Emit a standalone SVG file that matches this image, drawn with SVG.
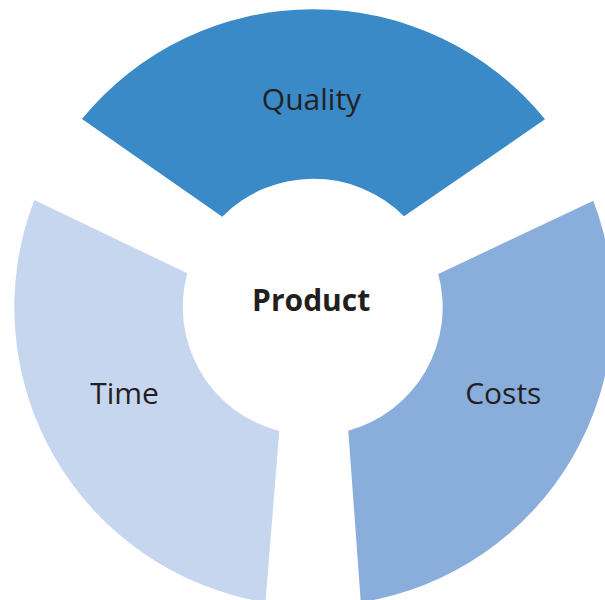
<svg xmlns="http://www.w3.org/2000/svg" width="605" height="600" viewBox="0 0 605 600">
<style>
.lbl{font-family:"Open Sans","Noto Sans","Liberation Sans",sans-serif;font-size:30px;fill:#231f20;text-anchor:middle}
.bold{font-weight:bold}
</style>
<rect width="605" height="600" fill="#ffffff"/>
<g id="quality">
<path d="M82,119 A298.7,298.7 0 0 1 545,119.3 L404,216.3 A128,128 0 0 0 222.3,216.7 Z" fill="#3a8ac8"/>
<text class="lbl" x="311.5" y="110">Quality</text>
</g>
<g id="time">
<path d="M34.3,200 L187.3,273.3 A128,128 0 0 0 279.3,431 L265.5,602.3 A298.7,298.7 0 0 1 34.3,200 Z" fill="#c7d6ef"/>
<text class="lbl" x="124.5" y="404">Time</text>
</g>
<g id="costs">
<path d="M438.3,274 L593.3,200.7 A298.7,298.7 0 0 1 360.8,602.3 L348.3,430.7 A128,128 0 0 0 438.3,274 Z" fill="#8aaedb"/>
<text class="lbl" x="503.3" y="404">Costs</text>
</g>
<g id="product">
<text class="lbl bold" x="311.2" y="311">Product</text>
</g>
<g id="connectors"></g>
</svg>
